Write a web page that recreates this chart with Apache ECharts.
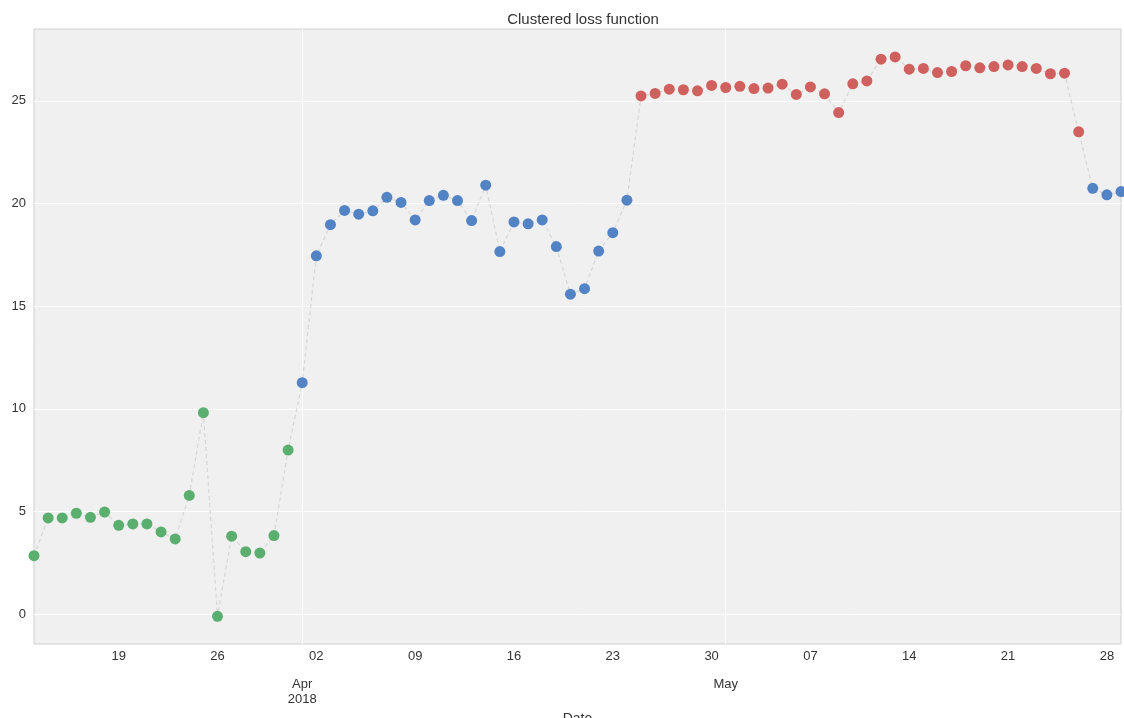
<!DOCTYPE html>
<html>
<head>
<meta charset="utf-8">
<title>Clustered loss function</title>
<script src="https://cdn.jsdelivr.net/npm/echarts@6/dist/echarts.min.js"></script>
<style>
  html, body { margin: 0; padding: 0; background: #ffffff; }
  #chart { width: 1124px; height: 718px; }
</style>
</head>
<body>
<div id="chart"></div>
<script>
// Daily dates, 13 March – 29 May 2018
const marchDates = ['2018-03-13','2018-03-14','2018-03-15','2018-03-16','2018-03-17','2018-03-18','2018-03-19',
  '2018-03-20','2018-03-21','2018-03-22','2018-03-23','2018-03-24','2018-03-25','2018-03-26','2018-03-27',
  '2018-03-28','2018-03-29','2018-03-30','2018-03-31'];
const aprilDates = ['2018-04-01','2018-04-02','2018-04-03','2018-04-04','2018-04-05','2018-04-06','2018-04-07',
  '2018-04-08','2018-04-09','2018-04-10','2018-04-11','2018-04-12','2018-04-13','2018-04-14','2018-04-15',
  '2018-04-16','2018-04-17','2018-04-18','2018-04-19','2018-04-20','2018-04-21','2018-04-22','2018-04-23',
  '2018-04-24','2018-04-25','2018-04-26','2018-04-27','2018-04-28','2018-04-29','2018-04-30'];
const mayDates = ['2018-05-01','2018-05-02','2018-05-03','2018-05-04','2018-05-05','2018-05-06','2018-05-07',
  '2018-05-08','2018-05-09','2018-05-10','2018-05-11','2018-05-12','2018-05-13','2018-05-14','2018-05-15',
  '2018-05-16','2018-05-17','2018-05-18','2018-05-19','2018-05-20','2018-05-21','2018-05-22','2018-05-23',
  '2018-05-24','2018-05-25','2018-05-26','2018-05-27','2018-05-28','2018-05-29'];

// Loss values per day
const marchLoss = [2.84, 4.68, 4.68, 4.91, 4.71, 4.97, 4.32, 4.39, 4.39, 4.00, 3.66, 5.78, 9.81, -0.11,
  3.79, 3.04, 2.97, 3.82, 7.99];
const aprilLoss = [11.27, 17.45, 18.97, 19.66, 19.48, 19.64, 20.30, 20.05, 19.20, 20.14, 20.40, 20.14,
  19.17, 20.89, 17.66, 19.10, 19.01, 19.20, 17.90, 15.58, 15.85, 17.68, 18.58, 20.16, 25.24, 25.36,
  25.57, 25.54, 25.49, 25.75];
const mayLoss = [25.65, 25.71, 25.60, 25.62, 25.81, 25.31, 25.68, 25.34, 24.43, 25.83, 25.97, 27.03,
  27.14, 26.54, 26.58, 26.38, 26.43, 26.71, 26.61, 26.67, 26.75, 26.67, 26.58, 26.32, 26.35, 23.49,
  20.74, 20.42, 20.58];

// Cluster assigned to each day (0 = low, 1 = middle, 2 = high)
const marchCluster = [0,0,0,0,0,0,0,0,0,0,0,0,0,0,0,0,0,0,0];
const aprilCluster = [1,1,1,1,1,1,1,1,1,1,1,1,1,1,1,1,1,1,1,1,1,1,1,1,2,2,2,2,2,2];
const mayCluster = [2,2,2,2,2,2,2,2,2,2,2,2,2,2,2,2,2,2,2,2,2,2,2,2,2,2,1,1,1];

const clusterColors = ['#5aae6e', '#5283c4', '#d0605e'];

// Axis ticks
const weekTicks = ['2018-03-19','2018-03-26','2018-04-02','2018-04-09','2018-04-16','2018-04-23',
  '2018-04-30','2018-05-07','2018-05-14','2018-05-21','2018-05-28'];
const monthTicks = ['2018-04-01', '2018-05-01'];
const monthTickLabels = ['Apr\n2018', 'May'];
const yTicks = [0, 5, 10, 15, 20, 25];

function toTime(s) {
  const p = s.split('-').map(Number);
  return new Date(p[0], p[1] - 1, p[2]).getTime();
}

const dates = marchDates.concat(aprilDates, mayDates);
const loss = marchLoss.concat(aprilLoss, mayLoss);
const cluster = marchCluster.concat(aprilCluster, mayCluster);
const times = dates.map(toTime);

const xMin = times[0];
const xMax = times[times.length - 1];
const weekTimes = weekTicks.map(toTime);
const monthTimes = monthTicks.map(toTime);

const FONT = '"Liberation Sans", Arial, sans-serif';
const TEXT = '#333333';

const scatterSeries = clusterColors.map(function (color, c) {
  const pts = [];
  for (let i = 0; i < times.length; i++) {
    if (cluster[i] === c) pts.push([times[i], loss[i]]);
  }
  return {
    type: 'scatter',
    xAxisIndex: 0,
    data: pts,
    symbol: 'circle',
    symbolSize: 11,
    itemStyle: { color: color, opacity: 1 },
    clip: true,
    z: 3
  };
});

const chart = echarts.init(document.getElementById('chart'), null, { renderer: 'canvas' });
chart.setOption({
  animation: false,
  backgroundColor: '#ffffff',
  textStyle: { fontFamily: FONT },
  title: {
    text: 'Clustered loss function',
    left: 578,
    textAlign: 'center',
    top: 7,
    textStyle: { fontFamily: FONT, fontSize: 15, fontWeight: 'normal', color: TEXT }
  },
  grid: {
    left: 34, right: 3, top: 29, bottom: 74,
    outerBoundsMode: 'none',
    containLabel: false,
    show: true,
    backgroundColor: '#f0f0f0',
    borderColor: '#cfcfcf',
    borderWidth: 1
  },
  xAxis: [
    {
      type: 'value',
      min: xMin,
      max: xMax,
      axisLine: { show: false },
      axisTick: { show: false, customValues: weekTimes },
      splitLine: { show: false },
      axisLabel: {
        customValues: weekTimes,
        margin: 6,
        fontFamily: FONT,
        fontSize: 13,
        color: TEXT,
        formatter: function (v) {
          const d = new Date(v).getDate();
          return (d < 10 ? '0' : '') + d;
        }
      }
    },
    {
      type: 'value',
      min: xMin,
      max: xMax,
      position: 'bottom',
      axisLine: { show: false },
      axisTick: { show: false, customValues: monthTimes },
      splitLine: { show: true, lineStyle: { color: '#ffffff', width: 1 } },
      axisLabel: {
        customValues: monthTimes,
        margin: 33,
        fontFamily: FONT,
        fontSize: 13,
        lineHeight: 15,
        color: TEXT,
        formatter: function (v) {
          const i = monthTimes.indexOf(v);
          return i >= 0 ? monthTickLabels[i] : '';
        }
      },
      name: 'Date',
      nameLocation: 'middle',
      nameGap: 61,
      nameTextStyle: { fontFamily: FONT, fontSize: 14, color: TEXT }
    }
  ],
  yAxis: {
    type: 'value',
    min: -1.46,
    max: 28.5,
    axisLine: { show: false },
    axisTick: { show: false, customValues: yTicks },
    splitLine: { show: true, lineStyle: { color: '#ffffff', width: 1 } },
    axisLabel: {
      customValues: yTicks,
      margin: 8,
      fontFamily: FONT,
      fontSize: 13,
      color: TEXT
    }
  },
  series: [
    {
      type: 'line',
      xAxisIndex: 0,
      data: times.map(function (t, i) { return [t, loss[i]]; }),
      showSymbol: false,
      symbol: 'none',
      lineStyle: { color: '#d6d6d6', width: 1.2, type: [4, 3] },
      clip: true,
      z: 2
    }
  ].concat(scatterSeries)
});
</script>
</body>
</html>
